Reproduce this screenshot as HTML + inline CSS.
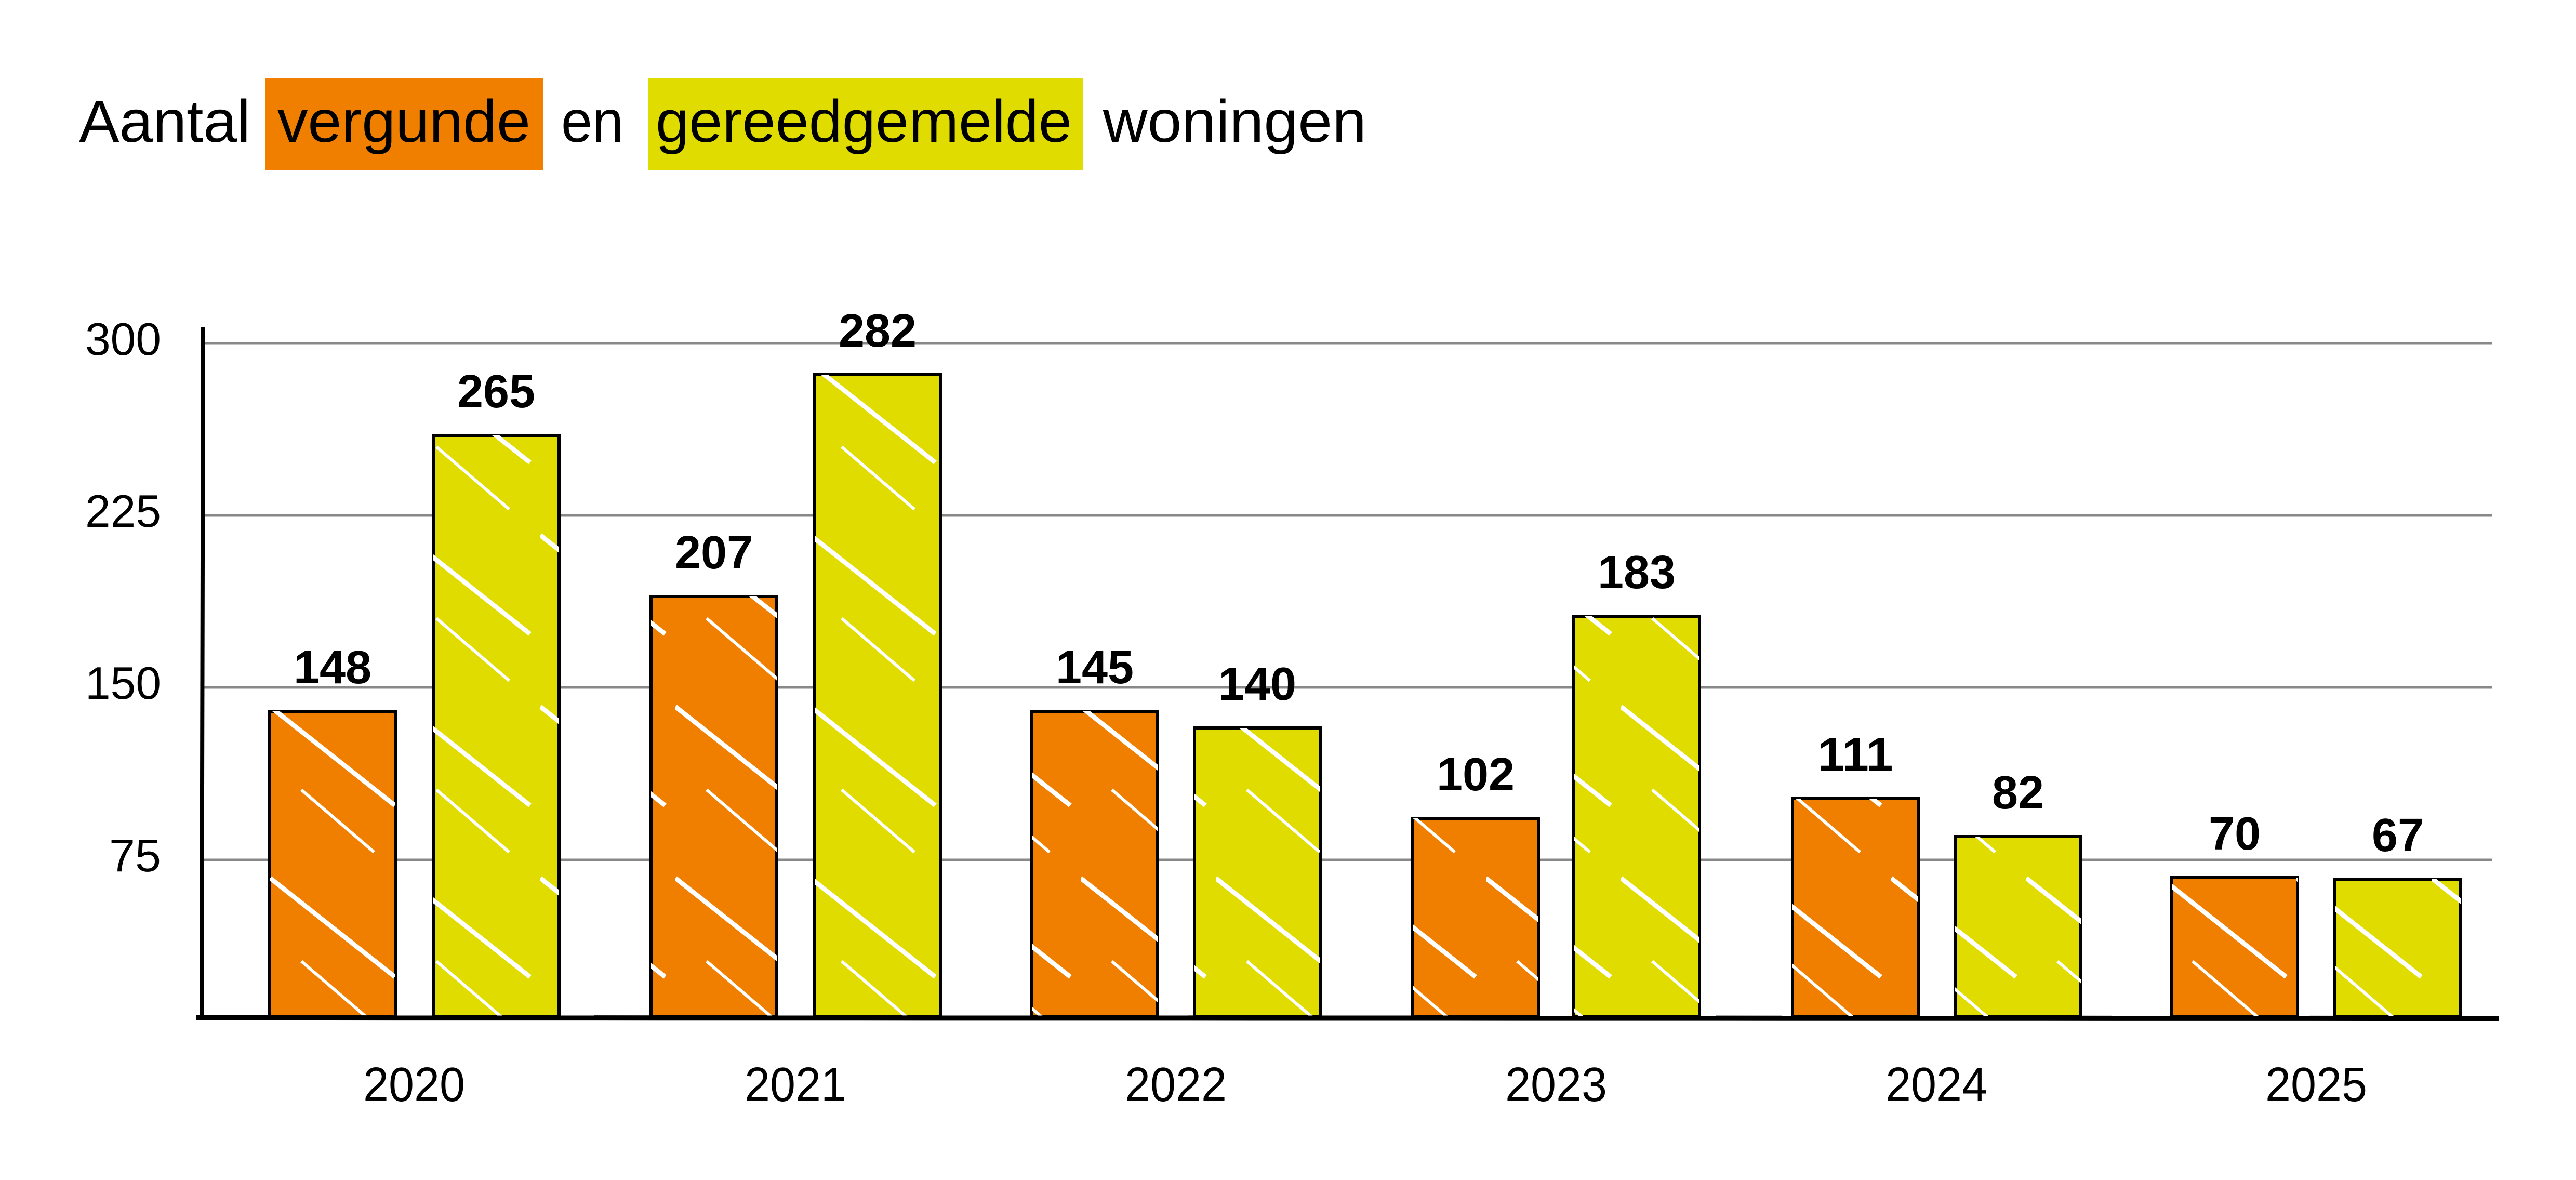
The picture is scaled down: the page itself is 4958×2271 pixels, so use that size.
<!DOCTYPE html>
<html><head><meta charset="utf-8"><style>
html,body{margin:0;padding:0;background:#fff;}
svg{display:block;}
text{font-family:"Liberation Sans Narrow","Liberation Sans",sans-serif;fill:#000;}
</style></head><body>
<svg width="4958" height="2271" viewBox="0 0 4958 2271" xmlns="http://www.w3.org/2000/svg">
<defs>
<pattern id="hatch" patternUnits="userSpaceOnUse" width="260" height="330">
<line x1="0" y1="40" x2="240" y2="230" stroke="#fff" stroke-width="9"/>
<line x1="60" y1="200" x2="200" y2="320" stroke="#fff" stroke-width="6"/>
</pattern>
</defs>
<rect x="511" y="151" width="534" height="176" fill="#f07f00"/>
<rect x="1247" y="151" width="837" height="176" fill="#e0dc00"/>
<g font-size="115">
<text x="152" y="273" textLength="330" lengthAdjust="spacingAndGlyphs">Aantal</text>
<text x="534" y="273" textLength="487" lengthAdjust="spacingAndGlyphs">vergunde</text>
<text x="1080" y="273" textLength="120" lengthAdjust="spacingAndGlyphs">en</text>
<text x="1262" y="273" textLength="801" lengthAdjust="spacingAndGlyphs">gereedgemelde</text>
<text x="2123" y="273" textLength="507" lengthAdjust="spacingAndGlyphs">woningen</text>
</g>
<g stroke="#888" stroke-width="5">
<line x1="391" y1="661" x2="4797" y2="661"/>
<line x1="391" y1="992" x2="4797" y2="992"/>
<line x1="391" y1="1323" x2="4797" y2="1323"/>
<line x1="391" y1="1655" x2="4797" y2="1655"/>
</g>
<g font-size="88" text-anchor="end">
<text x="310" y="683" textLength="146" lengthAdjust="spacingAndGlyphs">300</text>
<text x="310" y="1014" textLength="146" lengthAdjust="spacingAndGlyphs">225</text>
<text x="310" y="1345" textLength="146" lengthAdjust="spacingAndGlyphs">150</text>
<text x="310" y="1677" textLength="100" lengthAdjust="spacingAndGlyphs">75</text>
</g>
<g stroke="#000" stroke-width="6">
<rect x="519" y="1369" width="242" height="588" fill="#f07f00"/>
<rect x="519" y="1369" width="242" height="588" fill="url(#hatch)" stroke="none"/>
<rect x="834" y="838" width="242" height="1119" fill="#e0dc00"/>
<rect x="834" y="838" width="242" height="1119" fill="url(#hatch)" stroke="none"/>
<rect x="1253" y="1148" width="242" height="809" fill="#f07f00"/>
<rect x="1253" y="1148" width="242" height="809" fill="url(#hatch)" stroke="none"/>
<rect x="1568" y="721" width="242" height="1236" fill="#e0dc00"/>
<rect x="1568" y="721" width="242" height="1236" fill="url(#hatch)" stroke="none"/>
<rect x="1986" y="1369" width="242" height="588" fill="#f07f00"/>
<rect x="1986" y="1369" width="242" height="588" fill="url(#hatch)" stroke="none"/>
<rect x="2299" y="1401" width="242" height="556" fill="#e0dc00"/>
<rect x="2299" y="1401" width="242" height="556" fill="url(#hatch)" stroke="none"/>
<rect x="2719" y="1575" width="242" height="382" fill="#f07f00"/>
<rect x="2719" y="1575" width="242" height="382" fill="url(#hatch)" stroke="none"/>
<rect x="3029" y="1186" width="242" height="771" fill="#e0dc00"/>
<rect x="3029" y="1186" width="242" height="771" fill="url(#hatch)" stroke="none"/>
<rect x="3450" y="1537" width="242" height="420" fill="#f07f00"/>
<rect x="3450" y="1537" width="242" height="420" fill="url(#hatch)" stroke="none"/>
<rect x="3763" y="1610" width="242" height="347" fill="#e0dc00"/>
<rect x="3763" y="1610" width="242" height="347" fill="url(#hatch)" stroke="none"/>
<rect x="4180" y="1689" width="242" height="268" fill="#f07f00"/>
<rect x="4180" y="1689" width="242" height="268" fill="url(#hatch)" stroke="none"/>
<rect x="4494" y="1692" width="242" height="265" fill="#e0dc00"/>
<rect x="4494" y="1692" width="242" height="265" fill="url(#hatch)" stroke="none"/>
</g>
<line x1="391" y1="630" x2="388" y2="1960" stroke="#000" stroke-width="8"/>
<line x1="378" y1="1959" x2="4810" y2="1960" stroke="#000" stroke-width="10"/>
<g font-size="90" font-weight="bold" text-anchor="middle" lengthAdjust="spacingAndGlyphs">
<text x="640" y="1315" textLength="150" lengthAdjust="spacingAndGlyphs">148</text>
<text x="955" y="784" textLength="150" lengthAdjust="spacingAndGlyphs">265</text>
<text x="1374" y="1094" textLength="150" lengthAdjust="spacingAndGlyphs">207</text>
<text x="1689" y="667" textLength="150" lengthAdjust="spacingAndGlyphs">282</text>
<text x="2107" y="1315" textLength="150" lengthAdjust="spacingAndGlyphs">145</text>
<text x="2420" y="1347" textLength="150" lengthAdjust="spacingAndGlyphs">140</text>
<text x="2840" y="1521" textLength="150" lengthAdjust="spacingAndGlyphs">102</text>
<text x="3150" y="1132" textLength="150" lengthAdjust="spacingAndGlyphs">183</text>
<text x="3571" y="1483" textLength="145" lengthAdjust="spacingAndGlyphs">111</text>
<text x="3884" y="1556" textLength="100" lengthAdjust="spacingAndGlyphs">82</text>
<text x="4301" y="1635" textLength="100" lengthAdjust="spacingAndGlyphs">70</text>
<text x="4615" y="1638" textLength="100" lengthAdjust="spacingAndGlyphs">67</text>
</g>
<g font-size="93" text-anchor="middle">
<text x="797" y="2119" textLength="196" lengthAdjust="spacingAndGlyphs">2020</text>
<text x="1531" y="2119" textLength="196" lengthAdjust="spacingAndGlyphs">2021</text>
<text x="2263" y="2119" textLength="196" lengthAdjust="spacingAndGlyphs">2022</text>
<text x="2995" y="2119" textLength="196" lengthAdjust="spacingAndGlyphs">2023</text>
<text x="3727" y="2119" textLength="196" lengthAdjust="spacingAndGlyphs">2024</text>
<text x="4458" y="2119" textLength="196" lengthAdjust="spacingAndGlyphs">2025</text>
</g>
</svg>
</body></html>
